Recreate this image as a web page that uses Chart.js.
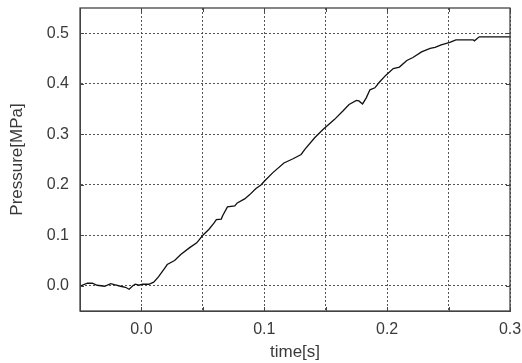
<!DOCTYPE html>
<html>
<head>
<meta charset="utf-8">
<script src="https://cdn.jsdelivr.net/npm/chart.js@4.4.0/dist/chart.umd.min.js"></script>
<style>
  html, body { margin: 0; padding: 0; background: #fff; }
  #wrap { width: 522px; height: 363px; }
</style>
</head>
<body>
<div id="wrap"><canvas id="pressureChart"></canvas></div>
<script>
// Valeurs
const timeVals = [
    -0.050, -0.044, -0.040, -0.036, -0.030, -0.025, -0.022, -0.017, -0.013, -0.010,
    -0.007, -0.005, -0.002, 0.001, 0.006, 0.010, 0.014, 0.019, 0.021, 0.027,
    0.032, 0.039, 0.045, 0.050, 0.055, 0.059, 0.061, 0.065, 0.066, 0.070,
    0.076, 0.078, 0.084, 0.088, 0.093, 0.0975, 0.100, 0.107, 0.116, 0.123,
    0.130, 0.133, 0.141, 0.148, 0.157, 0.164, 0.169, 0.175, 0.177, 0.180,
    0.183, 0.186, 0.190, 0.194, 0.199, 0.205, 0.210, 0.216, 0.221, 0.228,
    0.235, 0.239, 0.244, 0.251, 0.256, 0.270, 0.271, 0.275, 0.300
];
const pressureVals = [
    -0.001, 0.005, 0.005, 0.001, -0.001, 0.004, 0.002, -0.001, -0.003, -0.007,
    0.000, 0.003, 0.001, 0.003, 0.003, 0.007, 0.018, 0.035, 0.042, 0.050,
    0.062, 0.075, 0.085, 0.100, 0.112, 0.124, 0.131, 0.132, 0.138, 0.156,
    0.158, 0.164, 0.172, 0.180, 0.192, 0.200, 0.207, 0.224, 0.243, 0.251,
    0.260, 0.270, 0.293, 0.310, 0.329, 0.346, 0.359, 0.367, 0.366, 0.360,
    0.372, 0.388, 0.392, 0.404, 0.417, 0.430, 0.433, 0.446, 0.452, 0.463,
    0.470, 0.472, 0.477, 0.482, 0.487, 0.487, 0.485, 0.493, 0.493
];
const xTicks = [-0.05, 0.0, 0.05, 0.1, 0.15, 0.2, 0.25, 0.3];
const yTicks = [0.0, 0.1, 0.2, 0.3, 0.4, 0.5];

const textColor = '#3a3a3a';
const fontFamily = 'Liberation Sans, Arial, sans-serif';
const gridStyle = {
    color: '#555',
    lineWidth: 1,
    drawTicks: false
};

// pas de marge automatique due aux étiquettes
const noScalePadding = s => {
    s.paddingTop = 0;
    s.paddingBottom = 0;
    s.paddingLeft = 0;
    s.paddingRight = 0;
};

// Cadre complet + petites graduations intérieures
const framePlugin = {
    id: 'frame',
    afterDatasetsDraw(chart) {
        const { ctx, chartArea: a, scales } = chart;
        ctx.save();
        ctx.strokeStyle = '#444';
        ctx.lineWidth = 1.3;
        ctx.strokeRect(a.left, a.top, a.right - a.left, a.bottom - a.top);
        ctx.lineWidth = 1;
        ctx.beginPath();
        xTicks.forEach(v => {
            const px = Math.round(scales.x.getPixelForValue(v)) + 0.5;
            ctx.moveTo(px, a.bottom); ctx.lineTo(px, a.bottom - 4);
            ctx.moveTo(px, a.top); ctx.lineTo(px, a.top + 4);
        });
        yTicks.forEach(v => {
            const py = Math.round(scales.y.getPixelForValue(v)) + 0.5;
            ctx.moveTo(a.left, py); ctx.lineTo(a.left + 4, py);
            ctx.moveTo(a.right, py); ctx.lineTo(a.right - 4, py);
        });
        ctx.stroke();
        ctx.restore();
    }
};

new Chart(document.getElementById('pressureChart'), {
    type: 'line',
    data: {
        datasets: [{
            label: 'Pressure',
            data: timeVals.map((t, i) => ({ x: t, y: pressureVals[i] })),
            borderColor: '#111',
            borderWidth: 1.3,
            pointRadius: 0,
            tension: 0
        }]
    },
    options: {
        responsive: true,
        maintainAspectRatio: false,
        animation: false,
        layout: { padding: { left: 0, right: 12, top: 8, bottom: 0 } },
        plugins: {
            legend: { display: false },
            tooltip: { enabled: false }
        },
        scales: {
            x: {
                type: 'linear',
                min: -0.05,
                max: 0.3,
                afterBuildTicks: s => { s.ticks = xTicks.map(v => ({ value: v })); },
                afterFit: s => { s.height = 52; noScalePadding(s); },
                grid: { ...gridStyle },
                border: { display: true, color: '#444', dash: [2, 2] },
                ticks: {
                    color: textColor,
                    padding: 9,
                    maxRotation: 0,
                    autoSkip: false,
                    font: { family: fontFamily, size: 16 },
                    callback: v => (Math.abs(Math.round(v * 10) - v * 10) < 1e-6 && v >= 0) ? v.toFixed(1) : ''
                },
                title: {
                    display: true,
                    text: 'time[s]',
                    color: textColor,
                    padding: { top: 0, bottom: 0 },
                    font: { family: fontFamily, size: 17 }
                }
            },
            y: {
                min: -0.05,
                max: 0.55,
                afterBuildTicks: s => { s.ticks = yTicks.map(v => ({ value: v })); },
                afterFit: s => { s.width = 80; noScalePadding(s); },
                grid: { ...gridStyle },
                border: { display: true, color: '#444', dash: [2, 2] },
                ticks: {
                    color: textColor,
                    padding: 11,
                    font: { family: fontFamily, size: 16 },
                    callback: v => v.toFixed(1)
                },
                title: {
                    display: true,
                    text: 'Pressure[MPa]',
                    color: textColor,
                    padding: { top: 7, bottom: 0 },
                    font: { family: fontFamily, size: 17 }
                }
            }
        }
    },
    plugins: [framePlugin]
});
</script>
</body>
</html>
